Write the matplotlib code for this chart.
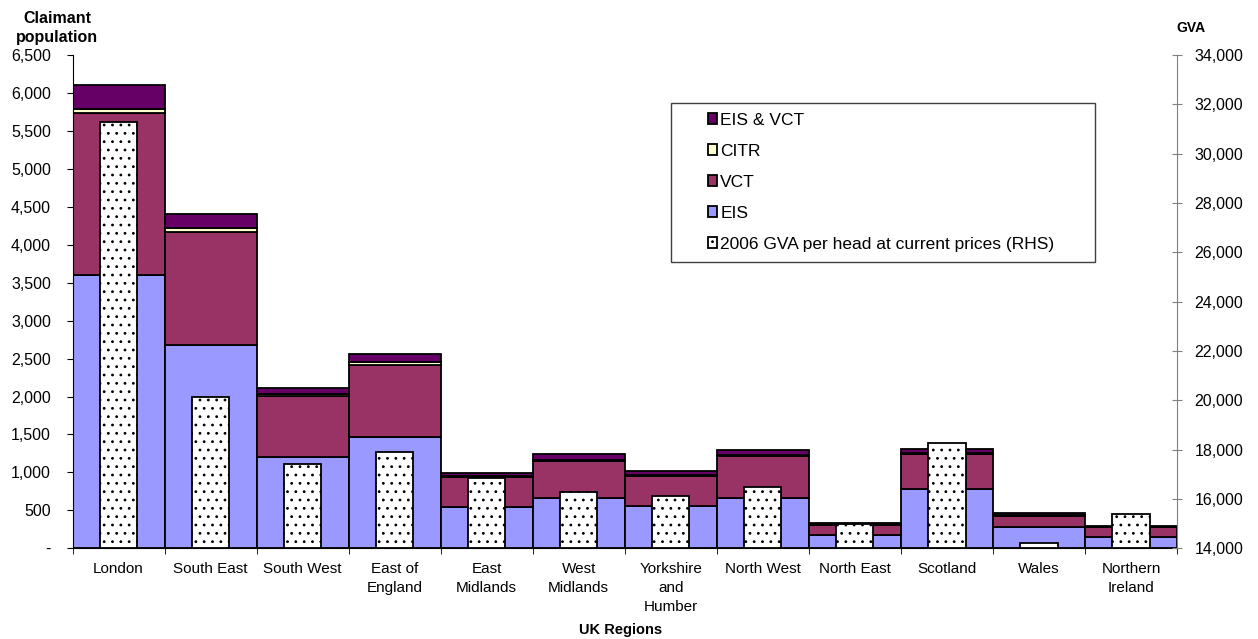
import matplotlib
matplotlib.use("Agg")
import matplotlib.pyplot as plt
import numpy as np
from matplotlib.ticker import FuncFormatter
from matplotlib.patches import Rectangle

plt.rcParams['font.family'] = ['Liberation Sans', 'DejaVu Sans']
plt.rcParams['hatch.linewidth'] = 0.8

regions = ["London", "South East", "South West", "East of\nEngland", "East\nMidlands",
           "West\nMidlands", "Yorkshire\nand\nHumber", "North West", "North East",
           "Scotland", "Wales", "Northern\nIreland"]
eis = [3605, 2675, 1200, 1470, 548, 662, 555, 664, 180, 780, 276, 150]
vct = [2125, 1495, 813, 942, 392, 490, 395, 553, 130, 460, 155, 128]
citr = [60, 52, 22, 40, 12, 18, 12, 16, 4, 12, 4, 2]
eis_vct = [310, 178, 78, 108, 35, 70, 58, 60, 24, 50, 30, 15]
gva = [31300, 20130, 17400, 17900, 16850, 16300, 16120, 16500, 15000, 18260, 14230, 15400]

gva_base = 14000

W, H = 1258, 639
fig = plt.figure(figsize=(W / 100, H / 100), dpi=100)
L, R, T, B = 72.5, 1177, 55, 548.3
ax = fig.add_axes([L / W, 1 - B / H, (R - L) / W, (B - T) / H])
x = np.arange(len(regions))

c_eis, c_vct, c_citr, c_ev = "#9999FF", "#993366", "#FFFFCC", "#660066"
lw = 1.3
b1 = ax.bar(x, eis, width=1.0, color=c_eis, edgecolor="black", linewidth=lw, label="EIS")
bot = np.array(eis, dtype=float)
b2 = ax.bar(x, vct, width=1.0, bottom=bot, color=c_vct, edgecolor="black", linewidth=lw, label="VCT")
bot += vct
b3 = ax.bar(x, citr, width=1.0, bottom=bot, color=c_citr, edgecolor="black", linewidth=lw, label="CITR")
bot += citr
b4 = ax.bar(x, eis_vct, width=1.0, bottom=bot, color=c_ev, edgecolor="black", linewidth=lw, label="EIS & VCT")

ax.set_xlim(-0.5, len(regions) - 0.5)
ax.set_ylim(0, 6500)
ax.set_yticks(np.arange(0, 6501, 500))
ax.yaxis.set_major_formatter(FuncFormatter(lambda v, p: "-" if v == 0 else f"{int(v):,}"))
ax.tick_params(axis='y', direction='out', length=4, labelsize=11.5, pad=11.5)
ax.set_xticks(x)
ax.set_xticklabels(regions, fontsize=11, linespacing=1.45, va='top')
ax.tick_params(axis='x', which='major', length=0, pad=10)
ax.set_xticks(np.arange(-0.5, len(regions), 1.0), minor=True)
ax.tick_params(axis='x', which='minor', length=4, direction='out')
ax.spines['top'].set_visible(False)
ax.spines['right'].set_visible(False)

ax2 = ax.twinx()
heights = [g - gva_base for g in gva]
b5 = ax2.bar(x, heights, width=0.405, bottom=gva_base, color="white", edgecolor="black",
             hatch="..", linewidth=lw, label="2006 GVA per head at current prices (RHS)")
ax2.set_ylim(14000, 34000)
ax2.set_yticks(np.arange(14000, 34001, 2000))
ax2.yaxis.set_major_formatter(FuncFormatter(lambda v, p: f"{int(v):,}"))
ax2.tick_params(axis='y', direction='inout', length=7.5, labelsize=11.5, pad=9, color="#808080")
ax2.spines['right'].set_color("#808080")
ax2.spines['top'].set_visible(False)
ax2.spines['left'].set_visible(False)
ax2.spines['bottom'].set_visible(False)

fig.text(57 / W, 1 - 28 / H, "Claimant\npopulation", ha='center', va='center',
         fontsize=11.5, fontweight='bold', linespacing=1.35)
fig.text(1191 / W, 1 - 28 / H, "GVA", ha='center', va='center', fontsize=10, fontweight='bold')
fig.text(621 / W, 1 - 630 / H, "UK Regions", ha='center', va='center', fontsize=10.5, fontweight='bold')

# legend frame
fig.patches.append(Rectangle((671 / W, 1 - 262 / H), (1095 - 671) / W, (262 - 103) / H,
                             transform=fig.transFigure, facecolor="white",
                             edgecolor="#404040", linewidth=1.0, zorder=1))
handles = [b4, b3, b2, b1, b5]
labels = [h.get_label() for h in handles]
leg = fig.legend(handles, labels, loc='upper left',
                 bbox_to_anchor=(708 / W, 1 - 113 / H), bbox_transform=fig.transFigure,
                 fontsize=12.5, frameon=False,
                 handlelength=0.5, handleheight=0.6, handletextpad=0.2,
                 labelspacing=0.92, borderpad=0, borderaxespad=0)

fig.savefig("out.png", dpi=100)
